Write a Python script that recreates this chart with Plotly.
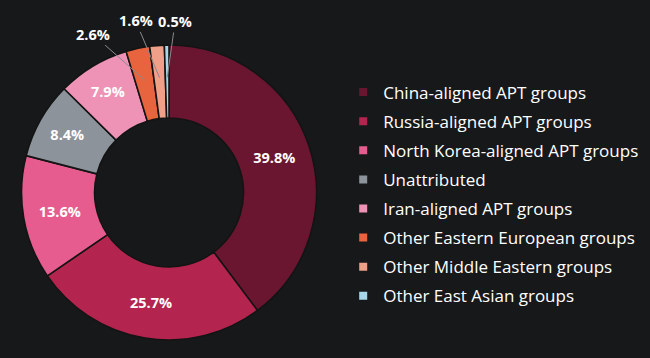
import math
import plotly.graph_objects as go

categories = ["China-aligned APT groups", "Russia-aligned APT groups", "North Korea-aligned APT groups",
              "Unattributed", "Iran-aligned APT groups", "Other Eastern European groups",
              "Other Middle Eastern groups", "Other East Asian groups"]
values = [39.8, 25.7, 13.6, 8.4, 7.9, 2.6, 1.6, 0.5]
colors = ["#6b1631", "#b3244f", "#e65c8e", "#8c939a", "#ee93b5", "#e8643e", "#f09f89", "#a9d7ea"]
inside = [True, True, True, True, True, False, False, False]
# pixel offsets of the outside labels from their leader-line anchor
label_offsets = {5: (-52, -46), 6: (-24, -57), 7: (8, -56)}

W, H = 650, 358
dom_x = [0.0331, 0.4869]
dom_y = [0.0503, 0.8743]
BG = "#17181a"
FONT = "Open Sans"

fig = go.Figure()
fig.add_trace(go.Pie(
    labels=categories, values=values, sort=False, direction="clockwise", rotation=0,
    hole=0.505, marker=dict(colors=colors, line=dict(color="#141414", width=1.6)),
    texttemplate="%{value:.1f}%", textposition=["inside" if f else "none" for f in inside],
    insidetextorientation="horizontal",
    textfont=dict(family=FONT, size=14.5, color="white", weight="bold"),
    domain=dict(x=dom_x, y=dom_y), showlegend=False, hoverinfo="label+value",
))

# legend entries
for c, col in zip(categories, colors):
    fig.add_trace(go.Scatter(x=[None], y=[None], mode="markers", name=c, legendgroup=c,
                             marker=dict(symbol="square", size=8, color=col)))

# outside labels with leader lines, anchored at the slice mid-angle
cx = (dom_x[0] + dom_x[1]) / 2
cy = (dom_y[0] + dom_y[1]) / 2
R = (dom_x[1] - dom_x[0]) * W / 2
total = sum(values)
cum = 0
for i, v in enumerate(values):
    mid = (cum + v / 2) / total * 2 * math.pi
    cum += v
    if inside[i]:
        continue
    r = R * 0.78
    hx = cx + r * math.sin(mid) / W
    hy = cy + r * math.cos(mid) / H
    ax, ay = label_offsets[i]
    fig.add_annotation(x=hx, y=hy, xref="paper", yref="paper", text=f"{v:.1f}%",
                       showarrow=True, arrowhead=0, arrowwidth=1, arrowcolor="#8a8a8a",
                       ax=ax, ay=ay, standoff=0,
                       font=dict(family=FONT, size=14.5, color="white", weight="bold"))

fig.update_layout(
    width=W, height=H, margin=dict(l=0, r=0, t=0, b=0, autoexpand=False),
    paper_bgcolor=BG, plot_bgcolor=BG,
    xaxis=dict(visible=False), yaxis=dict(visible=False),
    legend=dict(x=0.528, y=0.458, yanchor="middle", xanchor="left", tracegroupgap=4,
                font=dict(family=FONT, size=17, color="white")),
)
fig.write_html("out.html", config={"displayModeBar": False},
               post_script="document.body.style.margin='0';document.body.style.background='#17181a';")
